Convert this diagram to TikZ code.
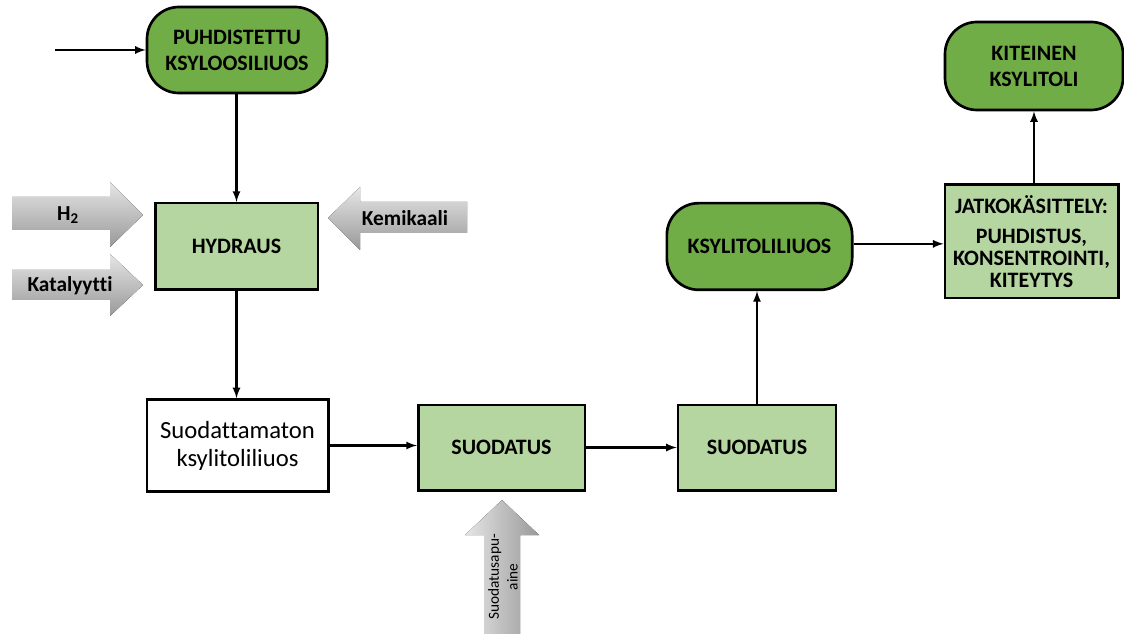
\documentclass[tikz,border=0pt]{standalone}
\usepackage{fontspec}
\setmainfont[Ligatures=NoCommon]{Carlito}
\usepackage{xcolor}
\usetikzlibrary{shapes,arrows,positioning,fit}

\definecolor{darkgreen}{RGB}{112,173,71}
\definecolor{lightgreen}{RGB}{181,214,160}

\begin{document}
\begin{tikzpicture}[x=0.75pt, y=-0.75pt,
			pill/.style={rectangle, draw, line width=2pt, fill=darkgreen, rounded corners=24pt,
					align=center, inner sep=0pt, font=\bfseries\fontsize{16.5}{19.5}\selectfont},
			block/.style={rectangle, draw, line width=2pt, fill=lightgreen,
					align=center, inner sep=0pt, font=\bfseries\fontsize{16.5}{19.5}\selectfont},
			plainblock/.style={rectangle, draw, line width=2pt, fill=white,
					align=center, inner sep=0pt, font=\fontsize{18.5}{21}\selectfont},
			feed/.style={top color=gray!20, bottom color=gray!80},
			feedup/.style={left color=gray!20, right color=gray!80},
			feedtext/.style={font=\bfseries\fontsize{16}{19}\selectfont},
			arrow/.style={->, line width=1.7pt, >=latex}
		]
		\useasboundingbox (0,0) rectangle (1124,634);

		% main line
		\node[pill, minimum width=135pt, minimum height=64.5pt] (puhd) at (237,50)
			{PUHDISTETTU\\KSYLOOSILIUOS};
		\node[block, minimum width=122pt, minimum height=65pt] (hydraus) at (236.5,246.5) {HYDRAUS};
		\node[plainblock, minimum width=136pt, minimum height=69pt] (suod) at (237.5,445.5)
			{Suodattamaton\\ksylitoliliuos};
		\node[block, minimum width=125pt, minimum height=64pt] (suodatus1) at (501.5,447.5) {SUODATUS};
		\node[block, minimum width=118.5pt, minimum height=64pt] (suodatus2) at (757,447.5) {SUODATUS};
		\node[pill, minimum width=139pt, minimum height=65pt] (liuos) at (759.5,246.5) {KSYLITOLILIUOS};
		\node[block, minimum width=130pt, minimum height=85pt, font=\bfseries\fontsize{16.5}{16.5}\selectfont]
			(jatko) at (1031.5,241.5)
			{JATKOKÄSITTELY:\\[6pt]PUHDISTUS,\\KONSENTROINTI,\\KITEYTYS};
		\node[pill, minimum width=133.5pt, minimum height=66pt] (kiteinen) at (1034,66)
			{KITEINEN\\KSYLITOLI};

		% feeds
		\fill[feed] (12,197) -- (110,197) -- (110,182) -- (143,215) -- (110,247)
			-- (110,230) -- (12,230) -- cycle;
		\node[feedtext] (vety) at (68,215) {H\textsubscript{2}};
		\fill[feed] (12,270) -- (110,270) -- (110,254) -- (143,285) -- (110,316)
			-- (110,300) -- (12,300) -- cycle;
		\node[feedtext] (kat) at (70,286) {Katalyytti};
		\fill[feed] (467,202) -- (360,202) -- (360,187) -- (328,218) -- (360,250)
			-- (360,233) -- (467,233) -- cycle;
		\node[feedtext] (kem) at (405,218) {Kemikaali};
		\fill[feedup] (484,634) -- (484,535) -- (465,535) -- (502,500) -- (539,535)
			-- (520,535) -- (520,634) -- cycle;
		\node[rotate=90, align=center, font=\fontsize{11.5}{14}\selectfont] (apu) at (503,577)
			{Suodatusapu-\\aine};

		% Connections
		\coordinate (src) at (55,50);
		\draw[arrow] (src) -- (puhd.west);
		\draw[arrow] (puhd.south -| hydraus.north) -- (hydraus.north);
		\draw[arrow] (hydraus.south) -- (hydraus.south |- suod.north);
		\draw[arrow] (suod.east) -- (suod.east -| suodatus1.west);
		\draw[arrow] (suodatus1.east) -- (suodatus2.west);
		\draw[arrow] (suodatus2.north) -- (suodatus2.north |- liuos.south);
		\draw[arrow] ([yshift=2pt]liuos.east) -- ([yshift=2pt]liuos.east -| jatko.west);
		\draw[arrow] (jatko.north -| kiteinen.south) -- (kiteinen.south);
	\end{tikzpicture}
\end{document}
